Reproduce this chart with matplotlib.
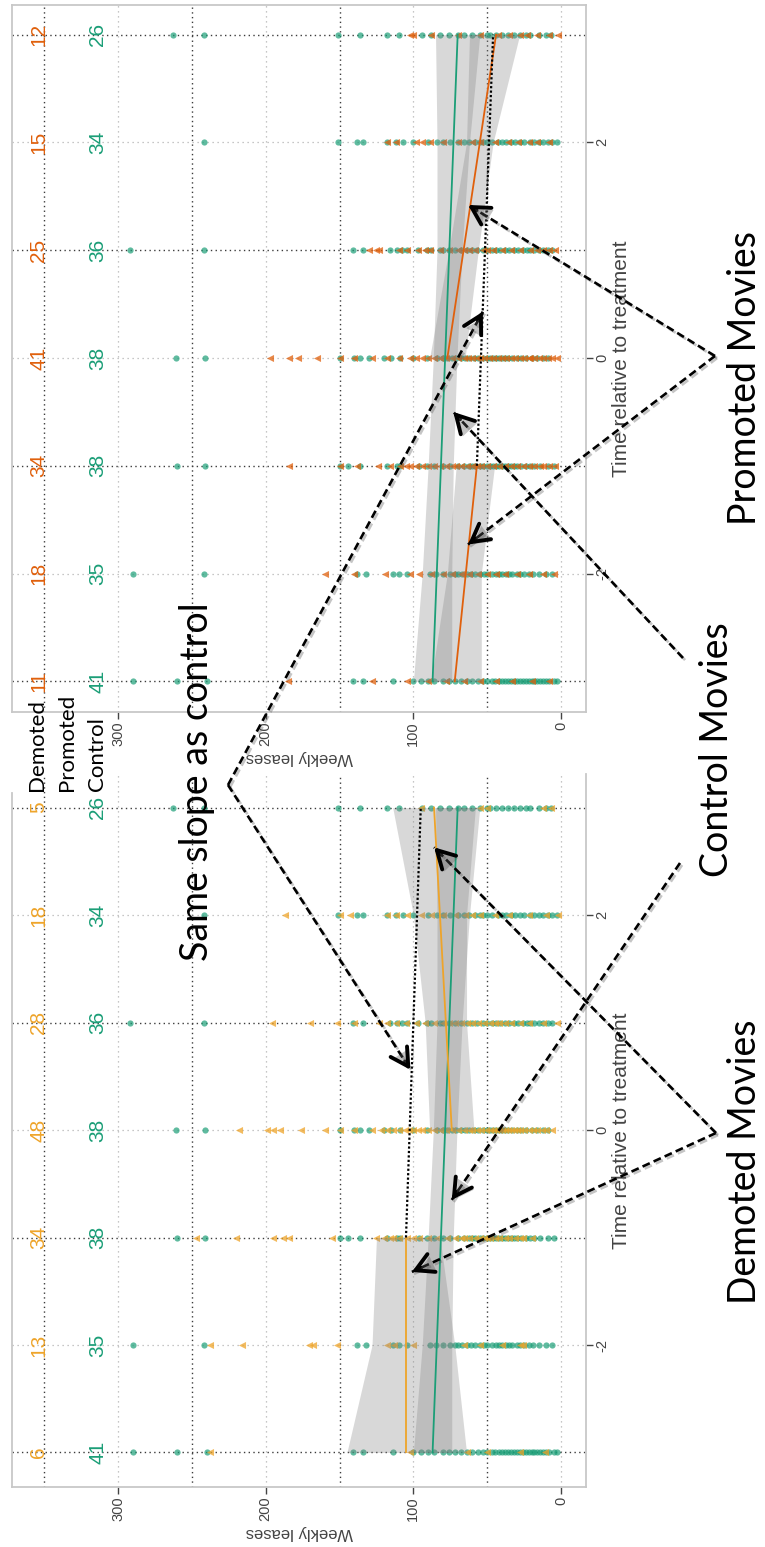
import numpy as np
import matplotlib
matplotlib.use("Agg")
import matplotlib.pyplot as plt
import matplotlib.patheffects as pe

W, H = 765, 1547
plt.rcParams["font.family"] = ["Liberation Sans Narrow", "Liberation Sans", "DejaVu Sans"]
BIG_FONT = ["Lato", "DejaVu Sans"]

GREEN, ORANGE, YELLOW = "#1b9e77", "#e0600c", "#eea42a"

# ── data ────────────────────────────────────────────────
weeks = [-3, -2, -1, 0, 1, 2, 3]
pre_weeks = [-3, -2, -1]
post_weeks = [0, 1, 2, 3]

control_leases = [
    [290, 260, 240, 141, 134, 114, 100, 95, 90, 86, 80, 76, 72, 68, 64, 60, 56, 53, 50, 47, 45,
     42, 40, 38, 36, 34, 32, 30, 28, 26, 24, 22, 20, 18, 16, 14, 12, 10, 8, 5, 3],
    [290, 242, 138, 132, 114, 110, 104, 89, 85, 80, 75, 72, 70, 67, 64, 61, 58, 55, 52, 50, 47,
     44, 42, 40, 37, 35, 33, 30, 28, 25, 22, 19, 15, 10, 6],
    [260, 241, 150, 144, 136, 118, 111, 109, 96, 91, 86, 80, 75, 70, 66, 62, 60, 58, 55, 53, 50,
     48, 46, 44, 42, 40, 38, 36, 34, 32, 30, 27, 24, 21, 18, 14, 9, 5],
    [261, 241, 150, 140, 136, 130, 120, 115, 109, 100, 91, 84, 80, 77, 74, 71, 68, 65, 62, 59, 56,
     53, 50, 48, 46, 44, 42, 40, 38, 36, 33, 30, 27, 24, 20, 16, 12, 9],
    [292, 242, 141, 134, 116, 111, 108, 104, 97, 91, 88, 82, 80, 76, 72, 68, 64, 60, 57, 53, 50,
     47, 44, 41, 38, 35, 32, 29, 26, 23, 21, 18, 15, 12, 9, 6],
    [242, 151, 138, 134, 118, 112, 107, 100, 90, 84, 80, 75, 70, 66, 62, 58, 55, 53, 50, 47, 43,
     40, 37, 34, 31, 28, 25, 21, 18, 15, 12, 9, 6, 3],
    [263, 242, 151, 136, 118, 110, 94, 88, 82, 76, 70, 66, 60, 55, 50, 48, 44, 40, 36, 32, 28,
     24, 21, 15, 10, 7],
]
demoted_leases = [
    [238, 102, 64, 50, 28, 11],
    [238, 216, 171, 168, 152, 118, 113, 100, 66, 55, 40, 28, 26],
    [247, 220, 195, 188, 184, 155, 125, 120, 116, 114, 110, 104, 100, 96, 90, 84, 77, 72, 68, 66,
     62, 58, 55, 52, 50, 48, 45, 42, 38, 35, 31, 28, 26, 20],
    [218, 199, 195, 190, 176, 160, 150, 140, 128, 122, 118, 114, 110, 106, 103, 100, 97, 94, 90,
     86, 82, 78, 74, 70, 66, 62, 60, 57, 54, 51, 48, 46, 44, 42, 40, 38, 36, 34, 32, 30, 28, 25,
     22, 19, 16, 13, 10, 6],
    [196, 170, 152, 140, 123, 118, 112, 105, 98, 92, 86, 80, 76, 72, 68, 64, 60, 56, 52, 48, 45,
     42, 38, 34, 28, 22, 12, 3],
    [187, 150, 143, 118, 112, 104, 95, 88, 80, 72, 65, 60, 55, 45, 35, 22, 10, 2],
    [95, 55, 50, 12, 7],
]
promoted_leases = [
    [185, 128, 104, 90, 78, 66, 55, 44, 33, 20, 8],
    [160, 140, 119, 102, 96, 88, 80, 74, 68, 62, 56, 50, 44, 38, 30, 22, 12, 5],
    [184, 150, 138, 124, 116, 109, 105, 102, 98, 94, 90, 86, 82, 78, 74, 71, 68, 64, 60, 57, 54,
     50, 46, 42, 38, 34, 30, 26, 22, 18, 14, 12, 8, 4],
    [197, 184, 178, 165, 150, 140, 128, 118, 110, 102, 98, 94, 90, 86, 82, 78, 74, 70, 66, 63, 60,
     57, 55, 52, 49, 46, 43, 40, 37, 34, 31, 28, 25, 22, 21, 18, 15, 12, 9, 6, 3],
    [130, 125, 123, 110, 104, 97, 92, 89, 82, 76, 70, 66, 62, 58, 53, 50, 46, 40, 34, 28, 21, 16,
     12, 8, 4],
    [118, 112, 98, 94, 89, 80, 70, 60, 55, 45, 36, 29, 22, 16, 8],
    [102, 100, 88, 70, 55, 43, 35, 28, 23, 16, 8, 2],
]

# fitted lines (first / last week of each segment) and confidence bands
control_fit = [87, 70]
control_upper = [100, 94, 90, 86.5, 84, 84, 85]
control_lower = [74, 74, 73, 70.5, 67, 62, 55]

demoted_pre_fit = [105, 105]
demoted_pre_upper = [145, 128, 125]
demoted_pre_lower = [64, 72, 82]
demoted_post_fit = [74, 86]
demoted_post_upper = [89, 92, 100, 114]
demoted_post_lower = [59, 64, 64, 58]
demoted_trend = [105, 95]

promoted_pre_fit = [72, 57]
promoted_pre_upper = [88, 77, 71]
promoted_pre_lower = [54, 54, 45]
promoted_post_fit = [77, 44]
promoted_post_upper = [89, 76, 64, 62]
promoted_post_lower = [65, 56, 46, 28]
promoted_trend = [57, 46]

lease_ticks = [0, 100, 200, 300]
week_ticks = [-2, 0, 2]

fig = plt.figure(figsize=(W / 100, H / 100), dpi=100)


def panel(rect, ylim, treat, color, pre_fit, pre_up, pre_lo, post_fit, post_up, post_lo, trend,
          label_y):
    ax = fig.add_axes(rect)
    ax.set_xlim(371.8, -16.9)
    ax.set_ylim(*ylim)

    # dotted reference lines
    for v in [50, 150, 250, 350]:
        ax.axvline(v, color="#3c3c3c", lw=1.0, ls=(0, (1, 2.4)), zorder=1)
    for v in lease_ticks:
        ax.axvline(v, color="#b4b4b4", lw=0.9, ls=(0, (1, 3)), zorder=1)
    for w in weeks:
        if w % 2:
            ax.axhline(w, color="#3c3c3c", lw=1.0, ls=(0, (1, 2.4)), zorder=1)
        else:
            ax.axhline(w, color="#b4b4b4", lw=0.9, ls=(0, (1, 3)), zorder=1)

    for w, vals in zip(weeks, control_leases):
        ax.scatter(vals, [w] * len(vals), s=20, marker="o", color=GREEN, alpha=0.7, lw=0, zorder=2)
    for w, vals in zip(weeks, treat):
        ax.scatter(vals, [w] * len(vals), s=26, marker="<", color=color, alpha=0.75, lw=0, zorder=2)

    band = dict(color="0.5", alpha=0.3, lw=0, zorder=3)
    ax.fill_betweenx(weeks, control_lower, control_upper, **band)
    ax.fill_betweenx(pre_weeks, pre_lo, pre_up, **band)
    ax.fill_betweenx(post_weeks, post_lo, post_up, **band)

    ax.plot(control_fit, [weeks[0], weeks[-1]], color=GREEN, lw=1.3, zorder=4)
    ax.plot(pre_fit, [pre_weeks[0], pre_weeks[-1]], color=color, lw=1.3, zorder=4)
    ax.plot(post_fit, [post_weeks[0], post_weeks[-1]], color=color, lw=1.3, zorder=4)
    ax.plot(trend, [pre_weeks[-1], post_weeks[-1]], color="k", lw=1.6, ls=(0, (1, 1)), zorder=5)

    # number of movies per week
    for w, c, t in zip(weeks, control_leases, treat):
        ax.text(353.8, w, str(len(t)), rotation=90, color=color, fontsize=15,
                ha="center", va="center")
        ax.text(313.9, w, str(len(c)), rotation=90, color=GREEN, fontsize=15,
                ha="center", va="center")

    for s in ax.spines.values():
        s.set_color("#c8c8c8")
        s.set_linewidth(1.3)

    ax.set_xticks(lease_ticks)
    ax.set_xticklabels([str(v) for v in lease_ticks], rotation=90, va="top", ha="center")
    ax.yaxis.tick_right()
    ax.set_yticks(week_ticks)
    ax.set_yticklabels([f"{v:g}" for v in week_ticks], rotation=90, va="center", ha="left")
    ax.tick_params(length=5, width=1, color="#444444", labelcolor="#444444", labelsize=10.5, pad=2)

    ax.set_xlabel("Weekly leases", rotation=180, fontsize=12, color="#444444",
                  family=["Liberation Sans", "DejaVu Sans"])
    ax.xaxis.label.set_va("center")
    ax.xaxis.set_label_coords(0.5, label_y)
    ax.yaxis.set_label_position("right")
    ax.set_ylabel("Time relative to treatment", fontsize=15, color="#444444")
    lab = ax.yaxis.label
    lab.set_rotation(90)
    lab.set_va("center")
    lab.set_ha("center")
    ax.yaxis.set_label_coords(1.0627, 0.5)
    return ax


ax_top = panel([12 / W, 1 - 712 / H, 574 / W, 707 / H], (-3.284, 3.275),
               promoted_leases, ORANGE, promoted_pre_fit, promoted_pre_upper, promoted_pre_lower,
               promoted_post_fit, promoted_post_upper, promoted_post_lower, promoted_trend, -0.065)
ax_bot = panel([12 / W, 1 - 1487 / H, 574 / W, 713 / H], (-3.321, 3.312),
               demoted_leases, YELLOW, demoted_pre_fit, demoted_pre_upper, demoted_pre_lower,
               demoted_post_fit, demoted_post_upper, demoted_post_lower, demoted_trend, -0.0645)
ax_bot.spines["top"].set_visible(False)
ax_bot.spines["left"].set_bounds(-3.321, 3.135)

# ── annotation layer in pixel coordinates ──────────────
ov = fig.add_axes([0, 0, 1, 1], zorder=10)
ov.set_xlim(0, W)
ov.set_ylim(H, 0)
ov.axis("off")

for x, name in [(37, "Demoted"), (67, "Promoted"), (97, "Control")]:
    ov.text(x, 791, name, rotation=90, ha="center", va="bottom", fontsize=16, family=BIG_FONT)

for x, y, name in [(745, 1162, "Demoted Movies"), (717, 750, "Control Movies"),
                   (745, 378, "Promoted Movies"), (197, 782, "Same slope as control")]:
    ov.text(x, y, name, rotation=90, ha="center", va="center", fontsize=27, family=BIG_FONT)

shadow_line = [pe.SimpleLineShadow(offset=(1.5, -1.5), shadow_color="0.35", alpha=0.35), pe.Normal()]
shadow_patch = [pe.withSimplePatchShadow(offset=(1.5, -1.5), shadow_rgbFace="0.35", alpha=0.35)]


def pointer(start, ax, tip):
    tx, ty = ov.transData.inverted().transform(ax.transData.transform(tip))
    sx, sy = start
    d = np.array([tx - sx, ty - sy])
    d /= np.hypot(*d)
    ov.plot([sx, tx], [sy, ty], color="k", lw=1.9, ls=(0, (3, 1.6)), path_effects=shadow_line)
    ov.annotate("", xy=(tx, ty), xytext=(tx - 10 * d[0], ty - 10 * d[1]),
                arrowprops=dict(arrowstyle="->,head_length=0.9,head_width=0.5", lw=2.8,
                                color="k", shrinkA=0, shrinkB=0, mutation_scale=14,
                                path_effects=shadow_patch))


pointer((716, 1133), ax_bot, (101, -1.32))
pointer((716, 1133), ax_bot, (86, 2.63))
pointer((680, 863), ax_bot, (74, -0.65))
pointer((683, 658), ax_top, (73, -0.50))
pointer((715, 356), ax_top, (63, 1.42))
pointer((715, 356), ax_top, (63, -1.73))
pointer((228, 785), ax_top, (53, 0.43))
pointer((228, 785), ax_bot, (102, 0.56))

fig.savefig("out.png", dpi=100)
